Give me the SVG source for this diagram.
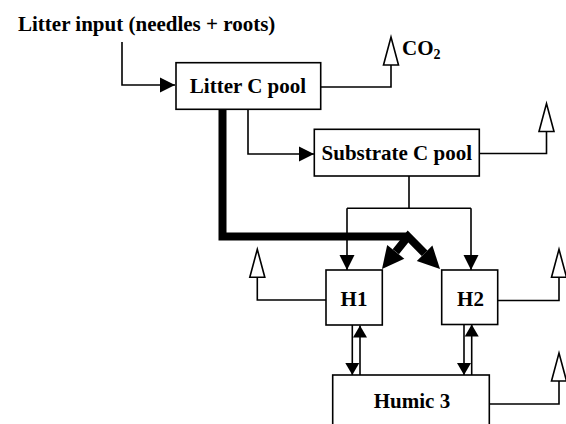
<svg xmlns="http://www.w3.org/2000/svg" width="566" height="424" viewBox="0 0 566 424">
<style>
.box{fill:#fff;stroke:#000;stroke-width:1.6}
.ln{fill:none;stroke:#000;stroke-width:1.6}
.thick{fill:none;stroke:#000;stroke-width:8;stroke-linejoin:miter}
text{font-family:"Liberation Serif","Times New Roman",serif;font-weight:bold;font-size:21px;fill:#000}
.c{text-anchor:middle}
</style>
<defs>
<marker id="ah" markerUnits="userSpaceOnUse" markerWidth="16" markerHeight="16" refX="15" refY="7.5" orient="auto" overflow="visible"><path d="M0,0 L15,7.5 L0,15 Z" fill="#000"/></marker>
<marker id="ahs" markerUnits="userSpaceOnUse" markerWidth="14" markerHeight="14" refX="12" refY="7" orient="auto" overflow="visible"><path d="M0,0 L12,7 L0,14 Z" fill="#000"/></marker>
<marker id="open" markerUnits="userSpaceOnUse" markerWidth="30" markerHeight="16" refX="0" refY="7.5" orient="auto" overflow="visible"><path d="M0,0 L28,7.5 L0,15 Z" fill="#fff" stroke="#000" stroke-width="1.6"/></marker>
</defs>
<g id="connectors">
<path class="ln" d="M122,42 V85 H175" marker-end="url(#ah)"/>
<path class="ln" d="M320.7,87 H391 V65" marker-end="url(#open)"/>
<path class="ln" d="M248,109 V154 H314" marker-end="url(#ah)"/>
<path class="ln" d="M479,153.5 H546.5 V131.5" marker-end="url(#open)"/>
<path class="ln" d="M409,176 V208.3 M347,208.3 H471"/>
<path class="ln" d="M347,208.3 V270" marker-end="url(#ah)"/>
<path class="ln" d="M471,208.3 V270" marker-end="url(#ah)"/>
<path class="thick" d="M222.5,109 V236.5 H408"/>
<path class="thick" d="M395.8,251.8 L408,236.5 L424.6,253.3"/>
<polygon points="382,269 404.3,258.7 387.2,244.9" fill="#000"/>
<polygon points="440,269 432.4,245.6 416.8,261" fill="#000"/>
<path class="ln" d="M326,300 H257.3 V277.3" marker-end="url(#open)"/>
<path class="ln" d="M497.7,300.5 H559 V277.3" marker-end="url(#open)"/>
<path class="ln" d="M352.3,325 V375" marker-end="url(#ahs)"/>
<path class="ln" d="M360,375 V325.5" marker-end="url(#ahs)"/>
<path class="ln" d="M464,324.5 V375" marker-end="url(#ahs)"/>
<path class="ln" d="M471.7,375 V324.5" marker-end="url(#ahs)"/>
<path class="ln" d="M489.3,404 H559 V381" marker-end="url(#open)"/>
</g>
<g id="title"><text x="18" y="31">Litter input (needles + roots)</text></g>
<g id="co2"><text x="402" y="55">CO<tspan font-size="14" dy="4">2</tspan></text></g>
<g id="litter"><rect class="box" x="176" y="62.7" width="144.7" height="46.6"/><text class="c" x="248" y="93">Litter C pool</text></g>
<g id="substrate"><rect class="box" x="314.3" y="129.3" width="165" height="46.7"/><text class="c" x="396.8" y="159.5">Substrate C pool</text></g>
<g id="h1"><rect class="box" x="326" y="270" width="56.3" height="55"/><text class="c" x="354" y="306">H1</text></g>
<g id="h2"><rect class="box" x="441.7" y="270" width="56" height="54.5"/><text class="c" x="470.5" y="306">H2</text></g>
<g id="humic3"><rect class="box" x="332.7" y="375" width="156.6" height="60"/><text class="c" x="412" y="408">Humic 3</text></g>
</svg>
